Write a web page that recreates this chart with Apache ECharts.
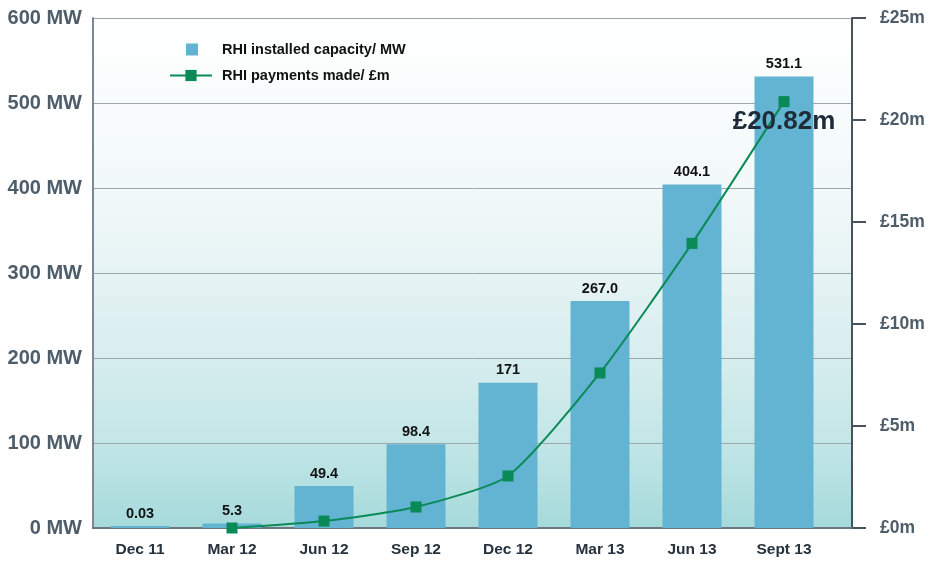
<!DOCTYPE html>
<html>
<head>
<meta charset="utf-8">
<style>
  html, body { margin: 0; padding: 0; background: #fff; }
  #chart { width: 932px; height: 561px; }
</style>
<script src="https://cdn.jsdelivr.net/npm/echarts@6/dist/echarts.min.js"></script>
</head>
<body>
<div id="chart"></div>
<script>
// RHI installed capacity (MW, bars) vs cumulative payments (£m, line)
const categories = ["Dec 11", "Mar 12", "Jun 12", "Sep 12", "Dec 12", "Mar 13", "Jun 13", "Sept 13"];
const capacityMW = [0.03, 5.3, 49.4, 98.4, 171, 267.0, 404.1, 531.1];
const capacityLabels = ["0.03", "5.3", "49.4", "98.4", "171", "267.0", "404.1", "531.1"];
const paymentsGBPm = [null, 0, 0.34, 1.03, 2.55, 7.6, 13.95, 20.9];
const paymentsCallout = "£20.82m"; // printed on the last point
const mwTicks = [0, 100, 200, 300, 400, 500, 600];
const gbpTicks = [0, 5, 10, 15, 20, 25];

const FONT = '"Liberation Sans", Arial, sans-serif';
const AXIS_GREY = "#4e5d6a";

const chart = echarts.init(document.getElementById("chart"), null, { renderer: "canvas" });

chart.setOption({
  animation: false,
  textStyle: { fontFamily: FONT },
  legend: {
    orient: "vertical",
    left: 164,
    top: 37,
    itemWidth: 42,
    itemHeight: 14,
    itemGap: 11,
    textStyle: { fontFamily: FONT, fontSize: 14.5, color: "#111", fontWeight: "bold", padding: [0, 0, 0, 5] },
    data: [
      { name: "RHI installed capacity/ MW", icon: "path://M0,0 M42,14 M16,1h12v12h-12z" },
      { name: "RHI payments made/ £m" },
    ],
  },
  grid: [
    // frame: background gradient, value axes, gridlines
    {
      left: 93, right: 80, top: 18, bottom: 33,
      show: true, borderWidth: 0,
      backgroundColor: {
        type: "linear", x: 0, y: 0, x2: 0, y2: 1,
        colorStops: [
          { offset: 0, color: "#ffffff" },
          { offset: 0.33, color: "#f2f9f9" },
          { offset: 0.5, color: "#e6f3f4" },
          { offset: 0.67, color: "#d6edee" },
          { offset: 0.83, color: "#c3e6e7" },
          { offset: 1, color: "#a6dadb" },
        ],
      },
    },
    // series area (categories stop short of the right axis)
    { left: 94, right: 102, top: 18, bottom: 33 },
  ],
  xAxis: [
    {
      gridIndex: 0, type: "category", data: categories,
      axisLine: { show: true, lineStyle: { color: "#6b7680", width: 2 } },
      axisTick: { show: false }, axisLabel: { show: false }, splitLine: { show: false },
    },
    {
      gridIndex: 1, type: "category", data: categories,
      axisLine: { show: false }, axisTick: { show: false },
      axisLabel: { margin: 14, fontFamily: FONT, fontSize: 15.5, fontWeight: "bold", color: "#26323d" },
    },
  ],
  yAxis: [
    {
      gridIndex: 0, type: "value", min: mwTicks[0], max: mwTicks[mwTicks.length - 1], interval: 100,
      axisLine: { show: true, lineStyle: { color: "#7d8892", width: 2 } },
      axisTick: { show: false },
      axisLabel: { margin: 11, fontFamily: FONT, fontSize: 20, fontWeight: "bold", color: AXIS_GREY,
        formatter: (v) => v + " MW" },
      splitLine: { show: true, lineStyle: { color: "#9ba6af", width: 1 } },
    },
    {
      gridIndex: 0, type: "value", position: "right", min: gbpTicks[0], max: gbpTicks[gbpTicks.length - 1], interval: 5,
      axisLine: { show: true, lineStyle: { color: "#48535e", width: 2 } },
      axisTick: { show: true, inside: false, length: 14, lineStyle: { color: "#48535e", width: 2 } },
      axisLabel: { margin: 28, fontFamily: FONT, fontSize: 17.5, fontWeight: "bold", color: AXIS_GREY,
        formatter: (v) => "£" + v + "m" },
      splitLine: { show: false },
    },
    { gridIndex: 1, type: "value", min: 0, max: 600, show: false },
    { gridIndex: 1, type: "value", min: 0, max: 25, show: false },
  ],
  series: [
    {
      name: "RHI installed capacity/ MW",
      type: "bar",
      xAxisIndex: 1, yAxisIndex: 2,
      data: capacityMW,
      barWidth: 59,
      barMinHeight: 2,
      itemStyle: { color: "#62b4d2" },
      label: {
        show: true, position: "top", distance: 5,
        fontFamily: FONT, fontSize: 14.5, fontWeight: "bold", color: "#111",
        formatter: (p) => capacityLabels[p.dataIndex],
      },
    },
    {
      name: "RHI payments made/ £m",
      type: "line",
      xAxisIndex: 1, yAxisIndex: 3,
      data: paymentsGBPm.map((v, i) => i === paymentsGBPm.length - 1
        ? { value: v, label: {
            show: true, position: "bottom", offset: [0, -3],
            formatter: paymentsCallout,
            fontFamily: FONT, fontSize: 26, fontWeight: "bold", color: "#1e2b38",
          } }
        : v),
      smooth: 0.2,
      symbol: "rect",
      symbolSize: 11,
      showAllSymbol: true,
      lineStyle: { color: "#0a8a57", width: 2 },
      itemStyle: { color: "#0a8a57" },
      z: 5,
    },
  ],
});
</script>
</body>
</html>
